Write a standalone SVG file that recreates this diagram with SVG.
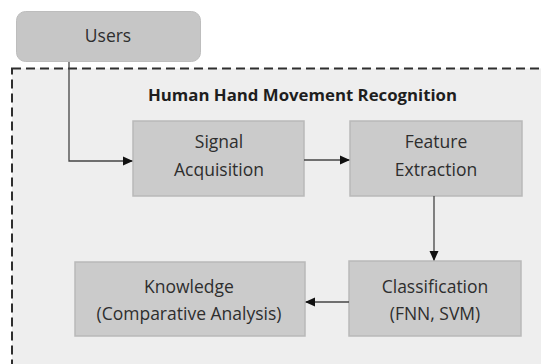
<svg xmlns="http://www.w3.org/2000/svg" width="541" height="364" viewBox="0 0 541 364">
  <defs>
    <style>
      .box { fill: #cbcbcb; stroke: #b9b9b9; stroke-width: 1.5; }
      .lbl { font-family: "Open Sans", "Liberation Sans", sans-serif; font-size: 17.5px; fill: #2e2e2e; text-anchor: middle; }
      .title { font-family: "Open Sans", "Liberation Sans", sans-serif; font-size: 16.8px; font-weight: bold; fill: #1e1e1e; text-anchor: middle; }
      .conn { fill: none; stroke: #444444; stroke-width: 1.3; }
    </style>
    <marker id="arrow" markerWidth="10" markerHeight="10" refX="9" refY="5" orient="auto" markerUnits="userSpaceOnUse">
      <path d="M0,0.5 L10,5 L0,9.5 Z" fill="#111111"/>
    </marker>
  </defs>

  <rect x="0" y="0" width="541" height="364" fill="#ffffff"/>

  <!-- system boundary -->
  <g id="system">
    <rect x="12" y="68.5" width="540" height="310" fill="#eeeeee" stroke="#2e2e2e" stroke-width="2" stroke-dasharray="9,5"/>
    <text class="title" x="302.5" y="101">Human Hand Movement Recognition</text>
  </g>

  <g id="users">
    <rect x="16.5" y="11.5" width="184" height="50" rx="9" fill="#c6c6c6" stroke="#bdbdbd" stroke-width="1"/>
    <text class="lbl" x="108" y="42">Users</text>
  </g>

  <g id="signal">
    <rect class="box" x="133" y="121" width="171" height="75"/>
    <text class="lbl" x="219" y="148">Signal</text>
    <text class="lbl" x="219" y="176">Acquisition</text>
  </g>

  <g id="feature">
    <rect class="box" x="350" y="121" width="172" height="75"/>
    <text class="lbl" x="436" y="148">Feature</text>
    <text class="lbl" x="436" y="176">Extraction</text>
  </g>

  <g id="classification">
    <rect class="box" x="349" y="261" width="172" height="75"/>
    <text class="lbl" x="435" y="293">Classification</text>
    <text class="lbl" x="435" y="320">(FNN, SVM)</text>
  </g>

  <g id="knowledge">
    <rect class="box" x="75" y="262" width="230" height="74"/>
    <text class="lbl" x="189" y="293">Knowledge</text>
    <text class="lbl" x="189" y="320">(Comparative Analysis)</text>
  </g>

  <g id="connectors">
    <path class="conn" d="M69,62 V161 H132" marker-end="url(#arrow)"/>
    <path class="conn" d="M304,160 H349" marker-end="url(#arrow)"/>
    <path class="conn" d="M434,196 V260" marker-end="url(#arrow)"/>
    <path class="conn" d="M349,302 H306" marker-end="url(#arrow)"/>
  </g>
</svg>
